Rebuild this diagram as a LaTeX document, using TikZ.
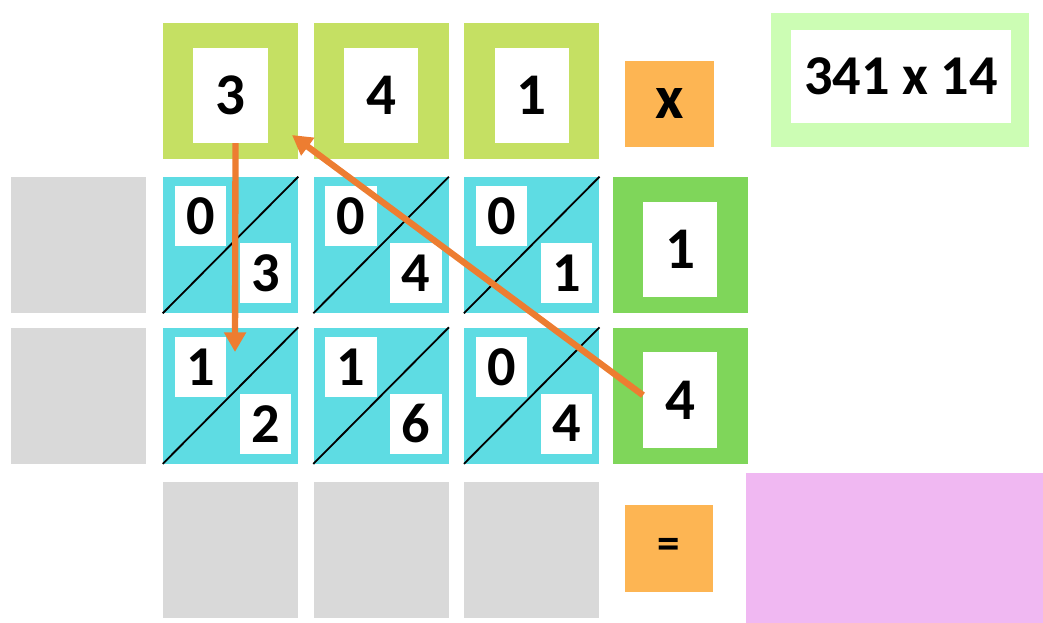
\documentclass[tikz,border=0pt]{standalone}
\usepackage{fontspec}
\setmainfont{Carlito}
\usetikzlibrary{arrows.meta, positioning}
\definecolor{topgreen}{HTML}{C5E063}
\definecolor{midgreen}{HTML}{7FD65A}
\definecolor{latcyan}{HTML}{5EDCE3}
\definecolor{cellgray}{HTML}{D9D9D9}
\definecolor{signorange}{HTML}{FDB553}
\definecolor{titlegreen}{HTML}{CCFDB4}
\definecolor{resultpink}{HTML}{F0B8F2}
\definecolor{arroworange}{HTML}{ED7D31}

\begin{document}
\begin{tikzpicture}[x=0.025cm, y=-0.025cm, >=Triangle,
		cell/.style={rectangle, minimum width=3.375cm, minimum height=3.4cm, inner sep=0pt},
		topcell/.style={cell, fill=topgreen},
		lattice/.style={cell, fill=latcyan},
		multcell/.style={cell, fill=midgreen},
		blank/.style={cell, fill=cellgray},
		bigdigit/.style={rectangle, fill=white, minimum width=1.85cm, minimum height=2.375cm, inner sep=0pt, font=\fontsize{42}{44}\selectfont\bfseries},
		smalldigit/.style={rectangle, fill=white, minimum width=1.28cm, minimum height=1.5cm, inner sep=0pt, font=\fontsize{40}{42}\selectfont\bfseries},
		sign/.style={rectangle, fill=signorange, minimum width=2.2cm, minimum height=2.15cm, inner sep=0pt},
		diag/.style={draw, line width=1.3pt},
		line/.style={draw, -{Triangle[length=14pt, width=15pt]}, line width=4.5pt, color=arroworange}]
		
		\useasboundingbox (0,0) rectangle (1043,623);
		
		% Multiplicande
		\node [topcell] (top1) at (230.5,91) {};
		\node [topcell, right=0.375cm of top1] (top2) {};
		\node [topcell, right=0.375cm of top2] (top3) {};
		\node [bigdigit, yshift=-0.11cm] (d3) at (top1) {3};
		\node [bigdigit, yshift=-0.11cm] (d4) at (top2) {4};
		\node [bigdigit, yshift=-0.11cm] (d1) at (top3) {1};
		\node [sign, font=\fontsize{44}{44}\selectfont\bfseries] (times) at (669.5,104) {x};
		
		% Titre
		\node [rectangle, fill=titlegreen, minimum width=6.45cm, minimum height=3.35cm] (titlebox) at (900,80) {};
		\node [rectangle, fill=white, minimum width=5.5cm, minimum height=2.325cm, font=\fontsize{40}{42}\selectfont\bfseries] (title) at (901,76.5) {341 x 14};
		
		% Grille
		\node [lattice] (c11) at (230.5,245) {};
		\node [lattice, right=0.375cm of c11] (c12) {};
		\node [lattice, right=0.375cm of c12] (c13) {};
		\node [lattice, below=0.35cm of c11] (c21) {};
		\node [lattice, right=0.375cm of c21] (c22) {};
		\node [lattice, right=0.375cm of c22] (c23) {};
		\node [multcell, right=0.325cm of c13] (m1) {};
		\node [multcell, right=0.325cm of c23] (m2) {};
		\node [bigdigit, yshift=-0.11cm] (e1) at (m1) {1};
		\node [bigdigit, yshift=-0.11cm] (e4) at (m2) {4};
		\node [blank, left=0.4cm of c11] (g1) {};
		\node [blank, left=0.4cm of c21] (g2) {};
		
		\draw [diag] (c11.south west) -- (c11.north east);
		\draw [diag] (c12.south west) -- (c12.north east);
		\draw [diag] (c13.south west) -- (c13.north east);
		\draw [diag] (c21.south west) -- (c21.north east);
		\draw [diag] (c22.south west) -- (c22.north east);
		\draw [diag] (c23.south west) -- (c23.north east);
		
		\node [smalldigit, xshift=-0.75cm, yshift=0.72cm] (c11a) at (c11) {0};
		\node [smalldigit, xshift=0.87cm, yshift=-0.7cm] (c11b) at (c11) {3};
		\node [smalldigit, xshift=-0.75cm, yshift=0.72cm] (c12a) at (c12) {0};
		\node [smalldigit, xshift=0.87cm, yshift=-0.7cm] (c12b) at (c12) {4};
		\node [smalldigit, xshift=-0.75cm, yshift=0.72cm] (c13a) at (c13) {0};
		\node [smalldigit, xshift=0.87cm, yshift=-0.7cm] (c13b) at (c13) {1};
		\node [smalldigit, xshift=-0.75cm, yshift=0.72cm] (c21a) at (c21) {1};
		\node [smalldigit, xshift=0.87cm, yshift=-0.7cm] (c21b) at (c21) {2};
		\node [smalldigit, xshift=-0.75cm, yshift=0.72cm] (c22a) at (c22) {1};
		\node [smalldigit, xshift=0.87cm, yshift=-0.7cm] (c22b) at (c22) {6};
		\node [smalldigit, xshift=-0.75cm, yshift=0.72cm] (c23a) at (c23) {0};
		\node [smalldigit, xshift=0.87cm, yshift=-0.7cm] (c23b) at (c23) {4};
		
		% Resultat
		\node [blank, below=0.45cm of c21] (r1) {};
		\node [blank, right=0.375cm of r1] (r2) {};
		\node [blank, right=0.375cm of r2] (r3) {};
		\node [sign, font=\fontsize{32}{32}\selectfont\bfseries] (equals) at (669,548.5) {=};
		\node [rectangle, fill=resultpink, minimum width=7.425cm, minimum height=3.75cm, anchor=north west, inner sep=0pt] (result) at (746,473) {};
		
		% Fleches
		\coordinate (downtip) at (235,352);
		\coordinate (uptip) at (292,135);
		\path [line] ([xshift=0.125cm]d3.south) -- (downtip);
		\path [line] ([yshift=0.12cm]e4.west) -- (uptip);
		
	\end{tikzpicture}
\end{document}
